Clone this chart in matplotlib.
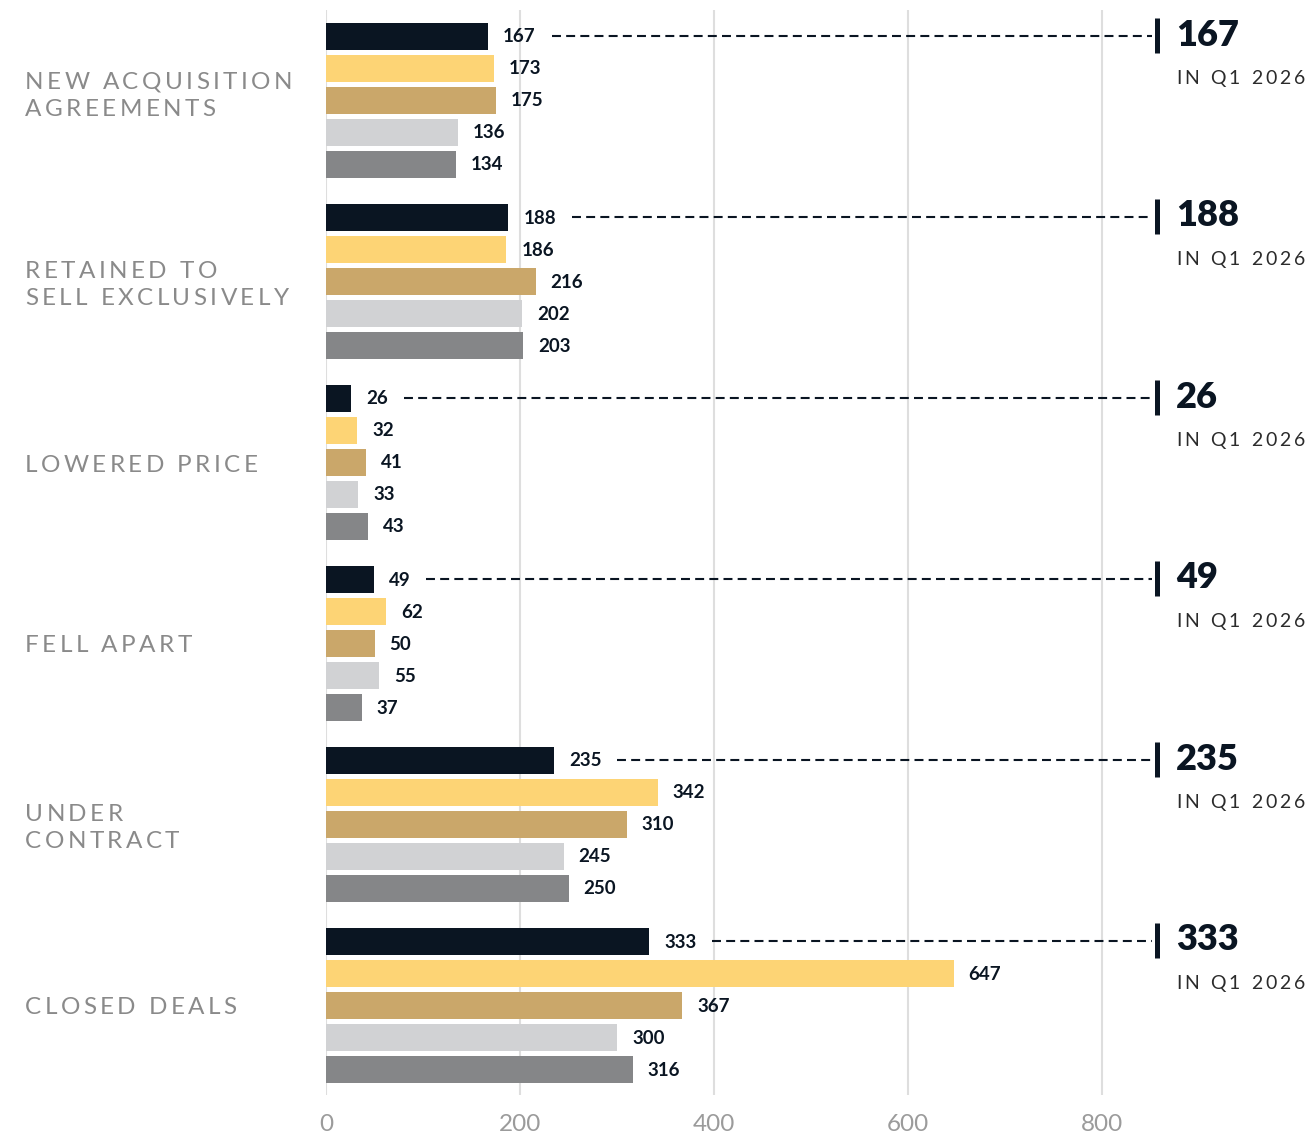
import matplotlib
matplotlib.use("Agg")
import matplotlib.pyplot as plt
from matplotlib.font_manager import FontProperties
from matplotlib.transforms import IdentityTransform

# categories top to bottom, five bars each (latest quarter first)
categories = [
    "NEW ACQUISITION\nAGREEMENTS",
    "RETAINED TO\nSELL EXCLUSIVELY",
    "LOWERED PRICE",
    "FELL APART",
    "UNDER\nCONTRACT",
    "CLOSED DEALS",
]
q1_2026 = [167, 188, 26, 49, 235, 333]
q4_2025 = [173, 186, 32, 62, 342, 647]
q3_2025 = [175, 216, 41, 50, 310, 367]
q2_2025 = [136, 202, 33, 55, 245, 300]
q1_2025 = [134, 203, 43, 37, 250, 316]
xticks = [0, 200, 400, 600, 800]

series = [q1_2026, q4_2025, q3_2025, q2_2025, q1_2025]
colors = ["#0a1522", "#fdd475", "#caa76a", "#d1d2d4", "#858688"]
NAVY = "#0a1522"
FONT = ["Lato", "DejaVu Sans"]

W, H = 1316, 1136
fig = plt.figure(figsize=(W / 100, H / 100), dpi=100)
ax_left, ax_top, ax_bottom = 326, 10, 1095
ax = fig.add_axes([ax_left / W, (H - ax_bottom) / H, (W - ax_left) / W, (ax_bottom - ax_top) / H])
ax.set_xlim(0, (W - ax_left) / 0.97)
ax.set_ylim(ax_bottom - 36, ax_top - 36)

group_step, bar_step, bar_h = 181, 32, 27
px = 1 / 0.97  # data units per pixel along x

label_texts = []
for g in range(len(categories)):
    for k, vals in enumerate(series):
        y = g * group_step + k * bar_step
        v = vals[g]
        ax.barh(y, v, height=bar_h, color=colors[k], zorder=2)
        t = ax.text(v + 15 * px, y + 1, str(v), va="center", ha="left",
                    fontsize=13.5, fontweight="bold", color=NAVY, family=FONT)
        if k == 0:
            label_texts.append(t)

ax.set_xticks(xticks)
ax.set_xticklabels([str(x) for x in xticks])
ax.set_yticks([])
ax.tick_params(axis="x", length=0, pad=14, labelsize=17.5, labelcolor="#9b9b9b")
for lab in ax.get_xticklabels():
    lab.set_family(FONT)
for x in xticks:
    ax.axvline(x, color="#dedede", lw=1.5, zorder=0)
for s in ax.spines.values():
    s.set_visible(False)

fig.canvas.draw()
renderer = fig.canvas.get_renderer()
inv = ax.transData.inverted()


def text_width(s, prop):
    w = renderer.get_text_width_height_descent("H" + s + "H", prop, ismath=False)[0]
    return w - renderer.get_text_width_height_descent("HH", prop, ismath=False)[0]


def tracked_text(x, y_center, text, prop, track, color, line_px):
    """Letter-spaced text in display pixels, lines centred on y_center."""
    _, h, d = renderer.get_text_width_height_descent("H", prop, ismath=False)
    cap = h - d
    lines = text.split("\n")
    n = len(lines)
    for i, line in enumerate(lines):
        base = y_center + ((n - 1) / 2 - i) * line_px - cap / 2
        cx = x
        for ch in line:
            fig.text(cx, base, ch, transform=IdentityTransform(), fontproperties=prop,
                     color=color, ha="left", va="baseline")
            cx += text_width(ch, prop) + track


def disp_y(y):
    return ax.transData.transform((0, y))[1]


cat_prop = FontProperties(family=FONT, size=17.5)
sub_prop = FontProperties(family=FONT, size=14)
nudge = [-6, 2, 2, 1, 2, 1]
for g, cat in enumerate(categories):
    mid = g * group_step + 2 * bar_step + nudge[g]
    tracked_text(25, disp_y(mid), cat, cat_prop, 3.4, "#8a8a8a", 27)

# dashed leaders from the first bar label to the highlighted figure on the right
mark_x = 857
for g, t in enumerate(label_texts):
    y = g * group_step
    bb = t.get_window_extent(renderer)
    x0 = inv.transform((bb.x1, 0))[0] + 16 * px
    ax.plot([x0, mark_x - 5 * px], [y, y], color=NAVY, lw=1.5,
            linestyle=(0, (4.3, 2.5)), zorder=3)
    ax.plot([mark_x, mark_x], [y - 18, y + 17], color=NAVY, lw=3.6,
            solid_capstyle="butt", zorder=3)
    ax.text(876, y - 1, str(q1_2026[g]), va="center", ha="left",
            fontsize=26, fontweight="heavy", color=NAVY, family=FONT)
    tracked_text(1176, disp_y(y + 41), "IN Q1 2026", sub_prop, 3.0, "#2b2b2b", 0)

fig.savefig("out.png", dpi=100, facecolor="white")
